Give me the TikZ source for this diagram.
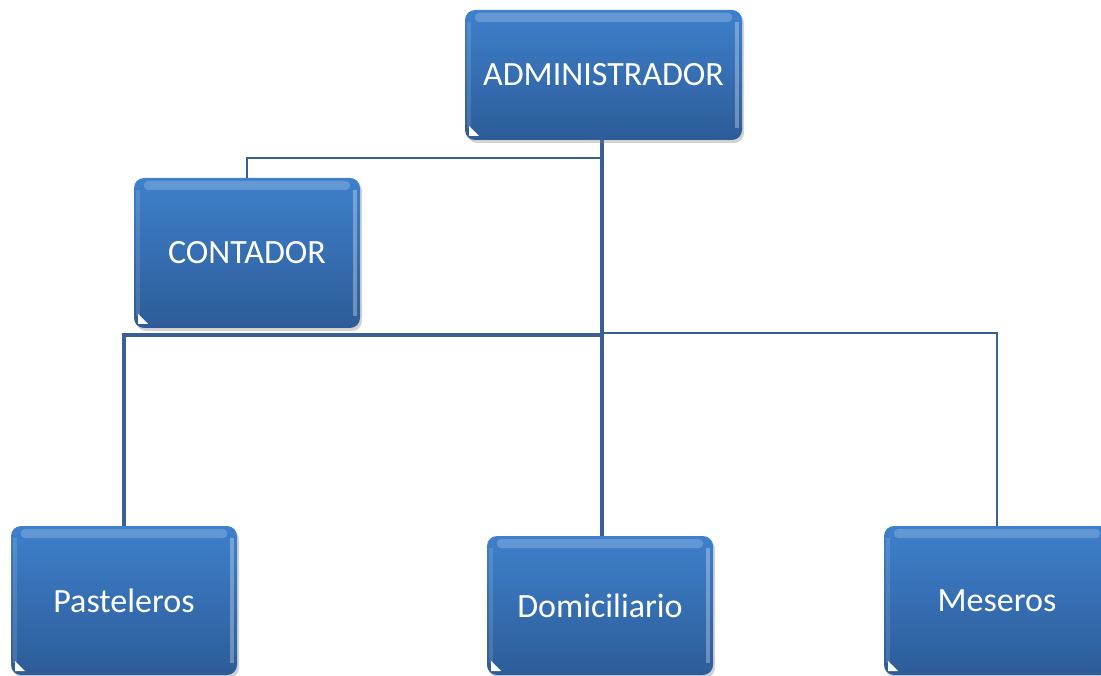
\documentclass[tikz,border=0pt]{standalone}
\usepackage{fontspec}
\setmainfont{Carlito}
\usetikzlibrary{shadows,calc}
\definecolor{boxtop}{RGB}{62,128,204}
\definecolor{boxbot}{RGB}{45,92,152}
\definecolor{linecol}{RGB}{58,94,150}
\tikzset{
  orgbox/.style={rounded corners=10pt, top color=boxtop, bottom color=boxbot,
    draw=none, text=white, font=\fontsize{34}{40}\selectfont,
    inner sep=0pt,
    drop shadow={opacity=0.35, shadow xshift=2pt, shadow yshift=-3pt},
    path picture={
      \fill[white,opacity=0.2,rounded corners=4pt]
        ([xshift=10pt,yshift=-3pt]path picture bounding box.north west) rectangle
        ([xshift=-10pt,yshift=-12pt]path picture bounding box.north east);
      \fill[white,opacity=0.3,sharp corners]
        ([xshift=-7pt,yshift=-12pt]path picture bounding box.north east) rectangle
        ([xshift=-3pt,yshift=12pt]path picture bounding box.south east);
      \fill[white,opacity=0.12,sharp corners]
        ([xshift=2pt,yshift=-12pt]path picture bounding box.north west) rectangle
        ([xshift=6pt,yshift=12pt]path picture bounding box.south west);
      \fill[white,sharp corners]
        ([xshift=4pt,yshift=4pt]path picture bounding box.south west) --
        ([xshift=14pt,yshift=4pt]path picture bounding box.south west) --
        ([xshift=4pt,yshift=14pt]path picture bounding box.south west) -- cycle;
    }},
  thinline/.style={draw=linecol, line width=2.5pt},
  thickline/.style={draw=linecol, line width=4pt}
}
\begin{document}
\begin{tikzpicture}[x=1pt,y=-1pt]
\useasboundingbox (0,0) rectangle (1101,676);
\clip (0,0) rectangle (1101,676);
\fill[white] (0,0) rectangle (1101,676);
% connectors first (behind boxes)
\coordinate (hub) at (602,335);
\coordinate (bend) at (602,158);
\coordinate (admbot) at (602,140);
\coordinate (contop) at (247,178);
\coordinate (pastop) at (124,526);
\coordinate (domtop) at (602,536);
\coordinate (mestop) at (997,526);
\draw[thinline] (bend) -| (contop);
\draw[thinline] ($(hub)+(0,-2)$) -| (mestop);
\draw[thickline] (admbot) -- (hub);
\draw[thickline] (hub) -| (pastop);
\draw[thickline] (hub) -- (domtop);
% boxes
\node[orgbox, minimum width=277pt, minimum height=130pt] (admin) at (603.5,75) {ADMINISTRADOR};
\node[orgbox, minimum width=226pt, minimum height=150pt] (cont) at (247,253) {CONTADOR};
\node[orgbox, minimum width=226pt, minimum height=149pt] (past) at (124,600.5) {Pasteleros};
\node[orgbox, minimum width=226pt, minimum height=139pt] (dom) at (600,605.5) {Domiciliario};
\node[orgbox, minimum width=226pt, minimum height=149pt] (mes) at (997,600.5) {Meseros};
\end{tikzpicture}
\end{document}
